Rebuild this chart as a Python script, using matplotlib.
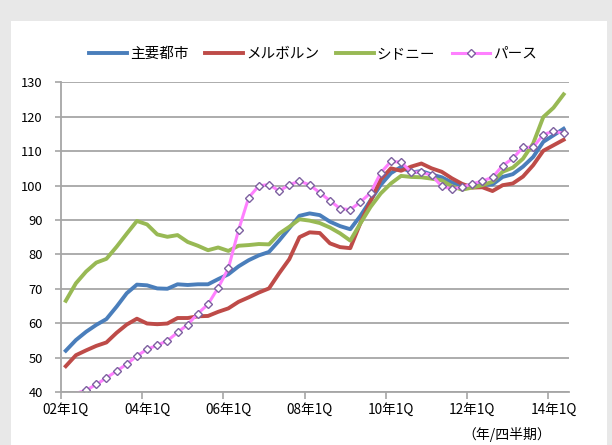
import numpy as np
import matplotlib
matplotlib.use('Agg')
import matplotlib.pyplot as plt
from matplotlib.patches import Rectangle
from matplotlib.ticker import FixedLocator

plt.rcParams['font.family'] = ['Noto Sans CJK JP', 'DejaVu Sans']

# quarterly index, 02年1Q .. 14年2Q
quarters = ['%02d年%dQ' % (2 + q // 4, q % 4 + 1) for q in range(50)]
tick_labels = ['02年1Q', '04年1Q', '06年1Q', '08年1Q', '10年1Q', '12年1Q', '14年1Q']

major = [52.0, 55.1, 57.5, 59.5, 61.2, 64.8, 68.7, 71.2, 71.0, 70.1,
         70.0, 71.3, 71.1, 71.3, 71.3, 72.8, 74.2, 76.5, 78.3, 79.7,
         80.7, 84.0, 87.6, 91.2, 91.9, 91.4, 89.5, 88.2, 87.3, 91.2,
         95.7, 100.2, 103.6, 105.4, 103.8, 104.2, 103.2, 102.4, 100.9, 99.8,
         100.1, 100.2, 100.3, 102.5, 103.3, 105.5, 108.3, 112.7, 114.6, 116.5]
melbourne = [47.5, 50.7, 52.1, 53.4, 54.4, 57.2, 59.6, 61.3, 59.9, 59.7,
             59.9, 61.5, 61.5, 62.0, 62.1, 63.3, 64.3, 66.2, 67.5, 68.9,
             70.1, 74.5, 78.6, 85.0, 86.4, 86.2, 83.2, 82.1, 81.8, 89.1,
             95.5, 101.8, 105.0, 104.3, 105.5, 106.4, 105.0, 104.0, 102.1, 100.5,
             99.4, 99.5, 98.4, 100.1, 100.6, 102.6, 105.9, 110.1, 111.7, 113.3]
sydney = [66.5, 71.6, 75.0, 77.6, 78.7, 82.2, 86.0, 89.7, 88.7, 85.8,
          85.1, 85.6, 83.6, 82.5, 81.2, 82.0, 81.0, 82.5, 82.7, 83.0,
          82.9, 86.0, 88.0, 90.2, 89.8, 89.1, 87.8, 86.1, 84.0, 89.0,
          93.8, 97.7, 100.6, 102.8, 102.5, 102.4, 102.0, 101.5, 99.8, 98.8,
          99.4, 100.1, 101.1, 104.0, 105.2, 107.8, 112.2, 119.9, 122.6, 126.5]
perth = [38.8, 39.6, 40.5, 42.2, 44.1, 46.1, 48.1, 50.5, 52.4, 53.6,
         54.9, 57.3, 59.6, 62.8, 65.5, 70.3, 75.9, 87.0, 96.5, 99.9,
         100.3, 98.4, 100.2, 101.3, 100.2, 97.9, 95.6, 93.3, 93.0, 95.2,
         97.9, 103.7, 107.0, 106.8, 103.9, 103.9, 103.0, 99.8, 99.0, 99.5,
         100.5, 101.3, 102.4, 105.8, 107.9, 111.1, 111.1, 114.8, 115.8, 115.2]

fig = plt.figure(figsize=(6.12, 4.45), dpi=100, facecolor='#e8e8e8')
fig.patches.append(Rectangle((11 / 612, 0), 596 / 612, 424 / 445, transform=fig.transFigure,
                             facecolor='white', edgecolor='none', zorder=-10))

ax = fig.add_axes([60.7 / 612, 1 - 392 / 445, 508 / 612, 309.7 / 445])
ax.set_facecolor('white')

ymin, ymax = 40, 130
x = np.arange(len(quarters))
ax.plot(x, major, color='#4a7ebb', lw=2.8, label='主要都市', solid_joinstyle='round')
ax.plot(x, melbourne, color='#be4b48', lw=2.8, label='メルボルン', solid_joinstyle='round')
ax.plot(x, sydney, color='#98b954', lw=2.8, label='シドニー', solid_joinstyle='round')
# markers only for points inside the value range (excel drops the others)
shown = [i for i, v in enumerate(perth) if v >= ymin]
ax.plot(x, perth, color='#ff80ff', lw=2.2, marker='D', ms=4.5, mfc='white',
        mec='#7d60a0', mew=1.0, markevery=shown, label='パース')

ax.set_xlim(-0.5, len(quarters) - 0.5)
ax.set_ylim(ymin, ymax)
ax.set_yticks(range(ymin, ymax + 1, 10))
ax.yaxis.grid(True, color='#a6a6a6', lw=1.3)
ax.set_axisbelow(True)

# tick marks between categories, labels on the data points
ax.xaxis.set_major_locator(FixedLocator(np.arange(-0.5, len(quarters), 8)))
ax.set_xticklabels([])
ax.xaxis.set_minor_locator(FixedLocator([quarters.index(t) for t in tick_labels]))
ax.set_xticklabels(tick_labels, minor=True)
ax.tick_params(axis='x', which='major', length=5, width=1.2, color='#a6a6a6')
ax.tick_params(axis='x', which='minor', length=0, pad=8, labelsize=9.8)
ax.tick_params(axis='y', length=4, width=1.2, color='#a6a6a6', pad=9, labelsize=9.3)

for s in ['top', 'right']:
    ax.spines[s].set_visible(False)
for s in ['left', 'bottom']:
    ax.spines[s].set_color('#a6a6a6')
    ax.spines[s].set_linewidth(1.3)

fig.legend(loc='center', bbox_to_anchor=(313 / 612, 1 - 54 / 445), ncol=4, frameon=False,
           fontsize=10.5, handlelength=2.6, handletextpad=0.2, columnspacing=1.15, numpoints=1)

fig.text(507 / 612, 1 - 435 / 445, '（年/四半期）', ha='center', va='center', fontsize=10)

fig.savefig('out.png', dpi=100, facecolor=fig.get_facecolor())
